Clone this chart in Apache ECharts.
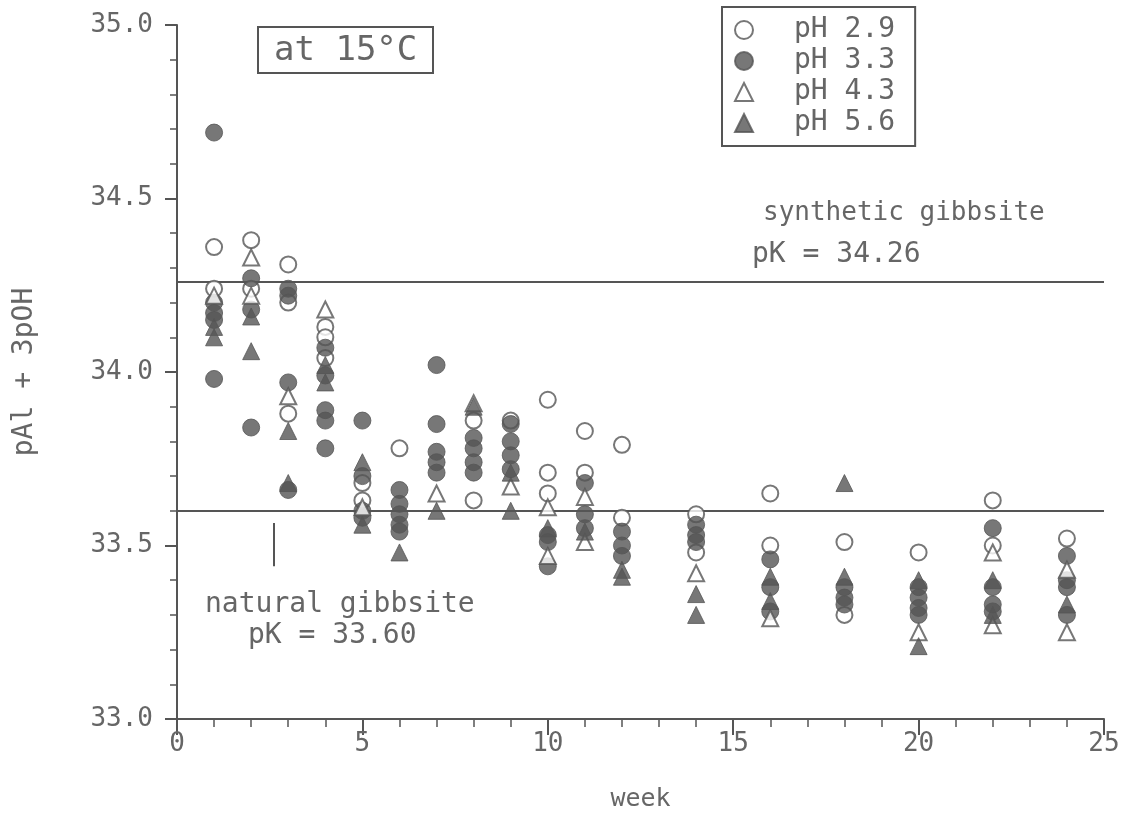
<!DOCTYPE html>
<html><head><meta charset="utf-8">
<script src="https://cdn.jsdelivr.net/npm/echarts@6/dist/echarts.min.js"></script>
<style>html,body{margin:0;padding:0;background:#fff}#c{width:1134px;height:817px}</style>
</head><body><div id="c"></div>
<script>
// [week, pAl + 3pOH]
const ph29 = [[1,34.36],[1,34.24],[2,34.38],[2,34.24],[3,34.31],[3,34.20],[3,33.88],[4,34.13],[4,34.10],[4,34.04],
  [5,33.68],[5,33.63],[6,33.78],[8,33.86],[8,33.63],[9,33.86],[10,33.92],[10,33.71],[10,33.65],[11,33.83],[11,33.71],
  [12,33.79],[12,33.58],[14,33.59],[14,33.48],[16,33.65],[16,33.50],[18,33.51],[18,33.30],[20,33.48],[22,33.63],[22,33.50],[24,33.52]];
const ph33 = [[1,34.69],[1,34.20],[1,34.17],[1,34.15],[1,33.98],[2,34.27],[2,34.18],[2,33.84],[3,34.24],[3,34.22],[3,33.97],[3,33.66],
  [4,34.07],[4,33.99],[4,33.89],[4,33.86],[4,33.78],[5,33.86],[5,33.70],[5,33.60],[5,33.58],
  [6,33.66],[6,33.62],[6,33.59],[6,33.56],[6,33.54],[7,34.02],[7,33.85],[7,33.77],[7,33.74],[7,33.71],
  [8,33.81],[8,33.78],[8,33.74],[8,33.71],[9,33.85],[9,33.80],[9,33.76],[9,33.72],[10,33.53],[10,33.51],[10,33.44],
  [11,33.68],[11,33.59],[11,33.55],[12,33.54],[12,33.50],[12,33.47],[14,33.56],[14,33.53],[14,33.51],
  [16,33.46],[16,33.38],[16,33.31],[18,33.38],[18,33.35],[18,33.33],[20,33.38],[20,33.35],[20,33.32],[20,33.30],
  [22,33.55],[22,33.38],[22,33.33],[22,33.31],[24,33.47],[24,33.40],[24,33.38],[24,33.30]];
const ph43 = [[1,34.22],[2,34.33],[2,34.22],[3,33.93],[4,34.18],[5,33.61],[7,33.65],[8,33.91],[9,33.67],[10,33.61],[10,33.47],
  [11,33.64],[11,33.51],[14,33.42],[16,33.29],[20,33.25],[22,33.48],[22,33.27],[24,33.43],[24,33.25]];
const ph56 = [[1,34.13],[1,34.10],[2,34.16],[2,34.06],[3,33.83],[3,33.68],[4,34.02],[4,33.97],[5,33.74],[5,33.56],[6,33.48],
  [7,33.60],[8,33.90],[9,33.71],[9,33.60],[10,33.55],[11,33.54],[12,33.43],[12,33.41],[14,33.36],[14,33.30],
  [16,33.41],[16,33.34],[18,33.68],[18,33.41],[20,33.40],[20,33.21],[22,33.40],[22,33.30],[24,33.33]];
const seriesNames = ['pH 2.9','pH 3.3','pH 4.3','pH 5.6'];
const syntheticPK = 34.26, naturalPK = 33.60;

const INK = '#555', TXT = '#666', FONT = 'DejaVu Sans Mono';
const chart = echarts.init(document.getElementById('c'));
const openStyle = {color:'#fff', borderColor:INK, borderWidth:2};
const fillStyle = {color:INK, borderColor:INK, borderWidth:1};
function sc(name, data, symbol, style, size, extra){
  return Object.assign({type:'scatter', name, data, symbol, symbolSize:size, itemStyle:style, z: 3, emphasis:{disabled:true}}, extra||{});
}
const tri = 'triangle';
chart.setOption({
  animation:false,
  title:{text:'at 15°C', left:258, top:27, padding:[7,16,5,16], borderColor:INK, borderWidth:2,
    textStyle:{fontFamily:FONT, fontSize:34, fontWeight:'normal', color:TXT}},
  legend:{orient:'vertical', left:722, top:7, padding:[9,20,9,12], borderColor:INK, borderWidth:2, itemGap:3,
    itemWidth:18, itemHeight:18, data:seriesNames,
    textStyle:{fontFamily:FONT, fontSize:28, color:TXT, padding:[0,0,0,36]}},
  grid:{left:177, right:30, top:25, bottom:92},
  xAxis:{type:'value', min:0, max:25, interval:5, name:'week', nameLocation:'middle', nameGap:68,
    nameTextStyle:{fontFamily:FONT, fontSize:25, color:TXT},
    axisLine:{lineStyle:{color:INK, width:2}}, axisTick:{length:16, lineStyle:{color:INK, width:2}},
    minorTick:{show:true, splitNumber:5, length:8, lineStyle:{color:INK, width:1.5}},
    axisLabel:{fontFamily:FONT, fontSize:26, color:TXT, margin:12}, splitLine:{show:false}},
  yAxis:{type:'value', min:33, max:35, interval:0.5, name:'pAl + 3pOH', nameLocation:'middle', nameGap:138,
    nameTextStyle:{fontFamily:FONT, fontSize:28, color:TXT},
    axisLine:{show:true, lineStyle:{color:INK, width:2}}, axisTick:{show:true, length:12, lineStyle:{color:INK, width:2}},
    minorTick:{show:true, splitNumber:5, length:7, lineStyle:{color:INK, width:1.5}},
    axisLabel:{fontFamily:FONT, fontSize:26, color:TXT, margin:24, formatter:v=>v.toFixed(1)}, splitLine:{show:false}},
  series:[
    sc(seriesNames[0], ph29, 'circle', openStyle, 16, {markLine:{silent:true, symbol:'none', label:{show:false},
      lineStyle:{color:INK, width:2, type:'solid'}, z:1,
      data:[{yAxis:syntheticPK},{yAxis:naturalPK},[{coord:[2.6,33.565]},{coord:[2.6,33.44]}]]}}),
    sc(seriesNames[1], ph33, 'circle', fillStyle, 17),
    sc(seriesNames[2], ph43, tri, openStyle, 16),
    sc(seriesNames[3], ph56, tri, fillStyle, 17)
  ],
  graphic:[
    {type:'text', left:763, top:200, style:{text:'synthetic gibbsite', font:'26px '+FONT, fill:TXT}},
    {type:'text', left:752, top:241, style:{text:'pK = 34.26', font:'28px '+FONT, fill:TXT}},
    {type:'text', left:205, top:591, style:{text:'natural gibbsite', font:'28px '+FONT, fill:TXT}},
    {type:'text', left:248, top:622, style:{text:'pK = 33.60', font:'28px '+FONT, fill:TXT}}
  ]
});
</script></body></html>
